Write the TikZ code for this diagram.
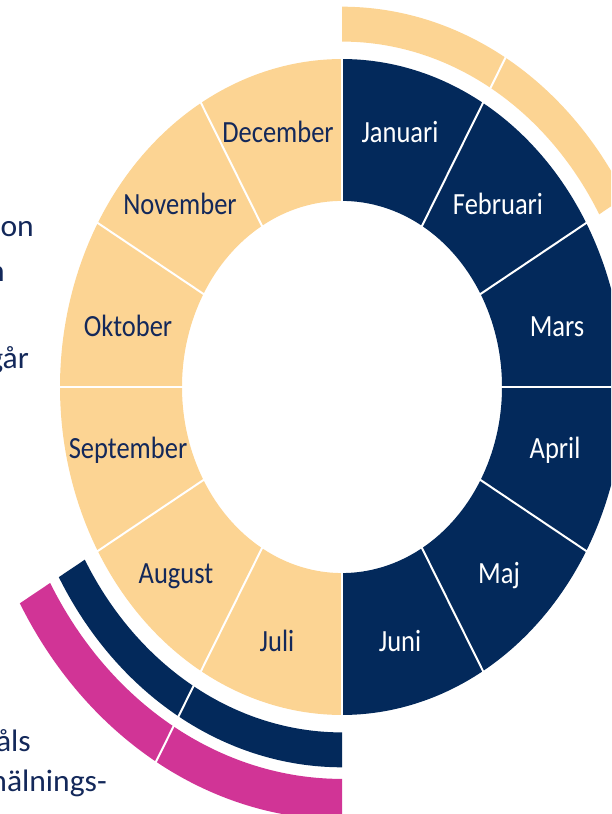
\documentclass[tikz,border=0pt]{standalone}
\usepackage{fontspec}
\setmainfont{Carlito}
\definecolor{wheelyellow}{HTML}{FCD493}
\definecolor{wheelnavy}{HTML}{03295B}
\definecolor{wheelpink}{HTML}{D13496}
\definecolor{textnavy}{HTML}{13285A}
\newcommand\talltext[1]{\scalebox{1}[1.163]{#1}}
\newcommand\sidetext[1]{\scalebox{1.09}[1.07]{#1}}
\begin{document}
\begin{tikzpicture}[x=1pt,y=1pt,
  sep/.style={draw=white, line width=2pt},
  month/.style={font=\fontsize{26.5}{30}\selectfont, inner sep=0pt, anchor=base},
  side/.style={font=\fontsize{29}{32}\selectfont, text=textnavy, inner sep=0pt, anchor=base east}
]
\path[use as bounding box, clip] (0,0) rectangle (611,814);

\begin{scope}[shift={(342,427)}, yscale=1.163]
  % main ring
  \foreach \i/\col in {0/wheelnavy, 1/wheelnavy, 2/wheelnavy, 3/wheelnavy, 4/wheelnavy,
      5/wheelnavy, 6/wheelyellow, 7/wheelyellow, 8/wheelyellow, 9/wheelyellow,
      10/wheelyellow, 11/wheelyellow}{
    \pgfmathsetmacro\aend{90-30*\i}
    \pgfmathsetmacro\astart{\aend-30}
    \fill[\col] (\astart:160) arc[start angle=\astart, end angle=\aend, radius=160]
      -- (\aend:282) arc[start angle=\aend, end angle=\astart, radius=282] -- cycle;
  }
  \foreach \a in {0,30,...,330}
    \draw[sep] (\a:158) -- (\a:284);

  % outer yellow arc (top right)
  \fill[wheelyellow] (30:297) arc[start angle=30, end angle=90, radius=297]
    -- (90:327) arc[start angle=90, end angle=30, radius=327] -- cycle;
  \draw[sep] (60:295) -- (60:329);

  % outer navy arc (bottom left)
  \fill[wheelnavy] (210:297) arc[start angle=210, end angle=270, radius=297]
    -- (270:327) arc[start angle=270, end angle=210, radius=327] -- cycle;
  \draw[sep] (240:295) -- (240:329);

  % outer pink arc (bottom left)
  \fill[wheelpink] (210:337) arc[start angle=210, end angle=270, radius=337]
    -- (270:372) arc[start angle=270, end angle=210, radius=372] -- cycle;
  \draw[sep] (240:335) -- (240:374);
\end{scope}

% month labels
\node[month, text=white] (jan) at (400,671) {\talltext{Januari}};
\node[month, text=white] (feb) at (498,599) {\talltext{Februari}};
\node[month, text=white] (mar) at (557,477) {\talltext{Mars}};
\node[month, text=white] (apr) at (555,355) {\talltext{April}};
\node[month, text=white] (maj) at (499,230) {\talltext{Maj}};
\node[month, text=white] (jun) at (400,162) {\talltext{Juni}};
\node[month, text=textnavy] (jul) at (277,162) {\talltext{Juli}};
\node[month, text=textnavy] (aug) at (176,230) {\talltext{August}};
\node[month, text=textnavy] (sep) at (128,355) {\talltext{September}};
\node[month, text=textnavy] (okt) at (128,477) {\talltext{Oktober}};
\node[month, text=textnavy] (nov) at (180,599) {\talltext{November}};
\node[month, text=textnavy] (dec) at (278,671) {\talltext{December}};

% cut-off side texts
\node[side] (t1) at (34,577) {\sidetext{on}};
\node[side] (t2) at (5,532) {\sidetext{n}};
\node[side] (t3) at (29,445) {\sidetext{går}};
\node[side] (t4) at (31,62) {\sidetext{åls}};
\node[side] (t5) at (107,22) {\sidetext{nälnings-}};
\end{tikzpicture}
\end{document}
